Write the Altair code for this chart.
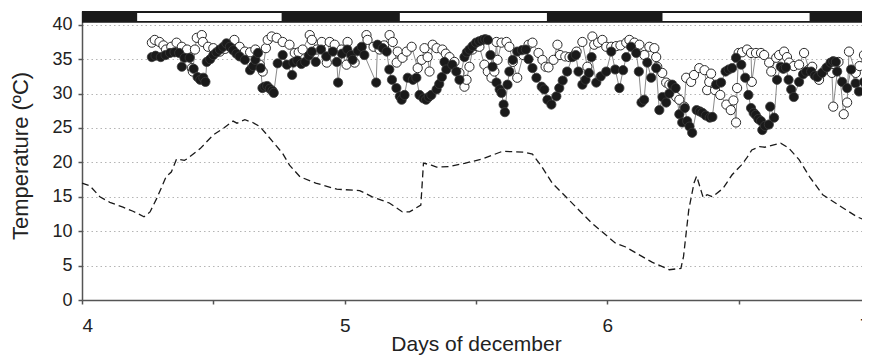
import altair as alt
import pandas as pd

# ---------------- data ----------------
# ambient temperature (dashed line)
amb_day = [4.0, 4.03, 4.068, 4.106, 4.156, 4.194, 4.236, 4.259, 4.285, 4.32, 4.34, 4.36, 4.39, 4.40,
           4.45, 4.50, 4.54, 4.575, 4.59, 4.62, 4.65, 4.677, 4.70, 4.764, 4.79, 4.83, 4.89, 4.97,
           5.057, 5.105, 5.17, 5.22, 5.247, 5.29, 5.30, 5.33, 5.35, 5.40, 5.46, 5.525, 5.60, 5.68,
           5.715, 5.75, 5.79, 5.855, 5.94, 6.03, 6.07, 6.17, 6.236, 6.28, 6.29, 6.31, 6.33, 6.34,
           6.36, 6.365, 6.38, 6.40, 6.44, 6.475, 6.51, 6.53, 6.55, 6.58, 6.60, 6.63, 6.66, 6.69,
           6.73, 6.77, 6.82, 6.88, 6.95, 7.0]
amb_temp = [17.0, 16.6, 15.0, 14.2, 13.5, 12.9, 12.1, 12.8, 14.8, 17.9, 18.6, 20.5, 20.3, 20.5,
            22.0, 24.0, 25.0, 26.0, 25.7, 26.2, 25.8, 25.2, 24.2, 21.3, 19.6, 17.9, 17.0, 16.1,
            15.9, 15.0, 14.1, 12.8, 12.8, 13.8, 19.9, 19.6, 19.3, 19.4, 19.9, 20.5, 21.6, 21.5,
            21.2, 19.4, 17.0, 14.5, 11.2, 8.3, 7.7, 5.5, 4.4, 4.6, 6.3, 13.1, 17.0, 18.0,
            15.5, 14.9, 15.3, 15.0, 16.2, 18.2, 19.6, 20.6, 21.8, 22.3, 22.2, 22.5, 22.8, 22.1,
            20.4, 17.9, 15.3, 13.8, 12.1, 11.3]

# filled circles series
filled_day = [4.266, 4.28, 4.30, 4.318, 4.335, 4.352, 4.37, 4.38, 4.39, 4.41, 4.425, 4.44, 4.45, 4.462,
              4.47, 4.475, 4.488, 4.50, 4.512, 4.525, 4.538, 4.55, 4.563, 4.575, 4.588, 4.60, 4.62,
              4.64, 4.652, 4.66, 4.67, 4.68, 4.687, 4.695, 4.705, 4.715, 4.725, 4.73, 4.745, 4.764,
              4.78, 4.80, 4.805, 4.82, 4.835, 4.85, 4.863, 4.875, 4.89, 4.91, 4.93, 4.955, 4.97,
              4.975, 4.99, 5.01, 5.025, 5.03, 5.05, 5.065, 5.075, 5.12, 5.125, 5.145, 5.16, 5.17,
              5.18, 5.197, 5.21, 5.217, 5.228, 5.24, 5.26, 5.273, 5.285, 5.30, 5.31, 5.32, 5.33,
              5.35, 5.36, 5.37, 5.38, 5.387, 5.41, 5.425, 5.437, 5.456, 5.465, 5.475, 5.487, 5.50,
              5.512, 5.525, 5.535, 5.545, 5.555, 5.563, 5.578, 5.59, 5.597, 5.605, 5.61, 5.62,
              5.627, 5.64, 5.657, 5.675, 5.69, 5.70, 5.715, 5.73, 5.75, 5.76, 5.772, 5.787, 5.806,
              5.817, 5.83, 5.847, 5.867, 5.88, 5.89, 5.905, 5.917, 5.93, 5.94, 5.958, 5.975, 5.996,
              6.015, 6.03, 6.046, 6.06, 6.072, 6.09, 6.11, 6.12, 6.13, 6.14, 6.152, 6.167, 6.186,
              6.198, 6.21, 6.224, 6.236, 6.247, 6.26, 6.274, 6.285, 6.295, 6.304, 6.313, 6.323,
              6.34, 6.352, 6.362, 6.375, 6.39, 6.40, 6.414, 6.433, 6.45, 6.462, 6.475, 6.49, 6.51,
              6.525, 6.537, 6.547, 6.557, 6.565, 6.575, 6.585, 6.59, 6.60, 6.615, 6.62, 6.635,
              6.646, 6.66, 6.67, 6.68, 6.69, 6.70, 6.71, 6.73, 6.745, 6.757, 6.776, 6.79, 6.80,
              6.817, 6.835, 6.85, 6.86, 6.87, 6.875, 6.894, 6.913, 6.928, 6.945, 6.958, 6.977, 6.99]
filled_temp = [35.3, 35.5, 35.3, 35.6, 35.9, 36.0, 35.9, 33.9, 35.2, 35.2, 33.6, 32.4, 32.0, 32.3,
               31.7, 34.6, 35.0, 35.6, 36.0, 36.4, 36.8, 37.3, 36.8, 36.3, 35.8, 35.4, 34.9,
               33.4, 34.0, 34.9, 35.9, 33.7, 30.8, 31.0, 31.1, 30.7, 30.4, 30.1, 34.4, 35.6,
               34.2, 32.7, 34.5, 34.8, 34.3, 34.6, 35.5, 36.1, 34.6, 36.4, 35.4, 36.1, 34.6,
               31.6, 35.8, 36.4, 35.6, 34.9, 36.2, 36.8, 35.6, 31.6, 37.1, 36.6, 36.1, 33.5,
               32.0, 30.8, 29.6, 29.1, 29.8, 32.3, 32.0, 32.3, 29.8, 29.3, 29.1, 29.5, 29.8,
               30.6, 31.4, 32.4, 34.6, 33.5, 34.2, 33.2, 32.0, 35.3, 36.0, 36.4, 36.9, 37.4,
               37.6, 37.8, 37.9, 37.8, 35.6, 33.9, 31.6, 30.6, 30.1, 28.4, 27.3, 31.3,
               33.2, 34.9, 36.1, 36.3, 36.4, 35.0, 33.7, 32.3, 31.0, 30.6, 29.1, 28.4, 29.6,
               30.8, 31.9, 33.2, 35.3, 35.6, 33.2, 31.3, 32.0, 33.0, 35.3, 31.6, 32.5, 33.2,
               36.1, 33.5, 30.8, 33.4, 35.3, 36.8, 35.9, 33.2, 28.7, 29.1, 34.5, 32.3, 33.7,
               27.6, 29.5, 28.7, 30.0, 31.3, 30.8, 27.0, 25.8, 27.9, 26.0, 25.2, 24.3,
               27.6, 27.4, 27.2, 26.8, 26.5, 26.6, 31.3, 31.6, 33.2, 33.5, 33.7, 35.2, 34.2,
               32.3, 29.8, 27.9, 27.2, 26.9, 26.3, 26.0, 24.7, 25.3, 25.5, 28.1, 26.5,
               32.0, 33.9, 33.6, 33.8, 32.0, 30.6, 29.5, 31.7, 32.8, 33.2, 33.2, 32.6, 32.4,
               33.0, 33.8, 34.5, 34.7, 34.6, 33.2, 31.7, 30.8, 33.5, 31.5, 30.3, 31.7, 33.2]

# open circles series
open_day = [4.266, 4.277, 4.295, 4.31, 4.32, 4.34, 4.36, 4.38, 4.40, 4.418, 4.422, 4.43, 4.437, 4.456,
            4.46, 4.48, 4.50, 4.525, 4.545, 4.563, 4.58, 4.60, 4.62, 4.64, 4.66, 4.677, 4.688, 4.70,
            4.707, 4.722, 4.741, 4.764, 4.79, 4.81, 4.825, 4.84, 4.867, 4.875, 4.894, 4.913, 4.932,
            4.943, 4.962, 4.988, 5.007, 5.011, 5.038, 5.06, 5.083, 5.087, 5.11, 5.133, 5.15, 5.171,
            5.183, 5.198, 5.202, 5.22, 5.236, 5.255, 5.278, 5.293, 5.304, 5.316, 5.323, 5.335,
            5.35, 5.372, 5.385, 5.399, 5.418, 5.437, 5.456, 5.464, 5.475, 5.487, 5.50, 5.513,
            5.532, 5.545, 5.559, 5.570, 5.578, 5.582, 5.597, 5.616, 5.627, 5.64, 5.657, 5.68,
            5.70, 5.715, 5.738, 5.753, 5.765, 5.776, 5.795, 5.81, 5.82, 5.84, 5.856, 5.875,
            5.883, 5.905, 5.924, 5.943, 5.95, 5.965, 5.981, 5.996, 6.015, 6.034, 6.05, 6.072,
            6.084, 6.103, 6.122, 6.141, 6.16, 6.179, 6.186, 6.19, 6.209, 6.224, 6.236, 6.25,
            6.262, 6.274, 6.293, 6.30, 6.319, 6.33, 6.35, 6.37, 6.38, 6.388, 6.395, 6.41, 6.43,
            6.453, 6.47, 6.48, 6.49, 6.494, 6.50, 6.513, 6.532, 6.547, 6.55, 6.566, 6.585, 6.597,
            6.616, 6.624, 6.643, 6.654, 6.673, 6.684, 6.692, 6.71, 6.73, 6.749, 6.768, 6.78,
            6.806, 6.83, 6.855, 6.86, 6.88, 6.90, 6.913, 6.92, 6.946, 6.96, 6.977, 6.99]
open_temp = [37.4, 37.8, 37.5, 37.0, 36.4, 36.8, 37.4, 36.8, 36.4, 33.7, 33.2, 36.4, 38.1, 38.5,
             37.5, 36.8, 36.6, 36.1, 36.5, 36.8, 37.8, 36.8, 36.1, 36.0, 36.4, 34.2, 33.2, 36.6,
             37.8, 38.3, 38.1, 37.5, 37.1, 35.9, 36.0, 36.4, 38.5, 37.8, 36.4, 37.5, 34.5,
             37.5, 37.1, 36.4, 34.2, 37.5, 34.5, 36.5, 38.5, 37.8, 36.8, 36.4, 37.0, 38.5,
             37.5, 34.5, 36.1, 35.2, 36.1, 36.8, 33.7, 34.9, 36.6, 35.3, 33.2, 37.1,
             36.6, 36.4, 35.8, 35.3, 34.6, 33.0, 31.0, 32.0, 33.9, 36.4, 36.9, 36.8,
             34.2, 33.2, 32.3, 33.2, 37.5, 34.9, 37.4, 37.5, 36.8, 34.6, 32.3, 35.6,
             37.1, 37.4, 35.9, 34.9, 33.9, 33.8, 34.9, 37.1, 35.6, 35.4, 35.3, 35.6,
             36.1, 37.5, 33.9, 38.3, 37.1, 37.4, 37.8, 36.8, 36.8, 36.9, 37.0, 37.4,
             37.8, 37.4, 37.1, 35.6, 36.8, 36.6, 35.3, 33.9, 33.0, 31.6, 31.3, 30.3,
             29.5, 29.1, 28.1, 32.3, 31.7, 32.7, 33.7, 33.4, 30.5, 31.7, 32.9, 30.5, 29.8,
             28.4, 27.6, 29.0, 25.8, 30.8, 35.9, 36.0, 36.4, 35.9, 31.7, 35.9, 35.9, 35.6,
             34.5, 33.2, 35.2, 35.6, 36.1, 35.3, 34.5, 34.0, 34.2, 35.9, 33.5, 33.9,
             32.0, 33.5, 33.0, 28.1, 34.6, 27.0, 28.7, 36.1, 33.0, 34.0, 35.6, 34.9]

# light/dark bar at the top (white = daylight)
day_start = [4.21, 5.21, 6.21]
day_end = [4.76, 5.77, 6.77]

x_ticks = [4, 4.5, 5, 5.5, 6, 6.5, 7]
y_ticks = [0, 5, 10, 15, 20, 25, 30, 35, 40]

# ---------------- chart ----------------
amb = pd.DataFrame({"day": amb_day, "temp": amb_temp})
filled = pd.DataFrame({"day": filled_day, "temp": filled_temp})
opn = pd.DataFrame({"day": open_day, "temp": open_temp})
bar_bg = pd.DataFrame({"day": [4.0], "e": [7.0]})
bar_day = pd.DataFrame({"day": day_start, "e": day_end})

FONT = "Liberation Sans"
XT = "Days of december"
YT = "Temperature (ºC)"
xs = alt.Scale(domain=[4, 7], nice=False, zero=False)
ys = alt.Scale(domain=[0, 42], nice=False)

x_axis = alt.Axis(values=x_ticks, title=XT,
                  labelExpr="datum.value % 1 === 0 ? format(datum.value, 'd') : ''",
                  grid=False, domainColor="#555", domainWidth=1.5, tickColor="#555",
                  tickWidth=1.5, tickSize=4, labelFontSize=19, labelColor="#222",
                  labelPadding=12, labelFont=FONT, titleFont=FONT, titleFontSize=21,
                  titleFontWeight="normal", titleColor="#222", titleBaseline="alphabetic",
                  titleY=50)
y_axis = alt.Axis(values=y_ticks, title=YT, grid=True,
                  gridColor="#b5b5b5", gridDash=[1.5, 3], gridWidth=1,
                  domainColor="#555", domainWidth=1.5, tickColor="#555", tickWidth=1.5,
                  tickSize=4, labelFontSize=18, labelColor="#222", labelPadding=6,
                  labelFont=FONT, titleFont=FONT, titleFontSize=22, titleFontWeight="normal",
                  titleColor="#222", titleBaseline="middle", titleX=-62)


def X(field="day"):
    return alt.X(f"{field}:Q", scale=xs, axis=x_axis, title=XT)


def Y(field="temp"):
    return alt.Y(f"{field}:Q", scale=ys, axis=y_axis, title=YT)


amb_line = alt.Chart(amb).mark_line(color="#1a1a1a", strokeDash=[7, 4], strokeWidth=1.3).encode(
    x=X(), y=Y())

bg = alt.Chart(bar_bg).mark_rect(color="#1a1a1a").encode(
    x=X(), x2="e:Q",
    y=alt.YDatum(40.3, scale=ys, axis=y_axis, title=YT), y2=alt.datum(42.0),
)
daybox = alt.Chart(bar_day).mark_rect(color="white").encode(
    x=X(), x2="e:Q",
    y=alt.YDatum(40.55, scale=ys, axis=y_axis, title=YT), y2=alt.datum(41.7),
)

open_line = alt.Chart(opn).mark_line(color="#8a8a8a", strokeWidth=1).encode(x=X(), y=Y())
filled_line = alt.Chart(filled).mark_line(color="#8a8a8a", strokeWidth=1).encode(x=X(), y=Y())
open_pts = alt.Chart(opn).mark_point(filled=True, fill="white", stroke="#2a2a2a",
                                     strokeWidth=1, size=85, opacity=1).encode(x=X(), y=Y())
filled_pts = alt.Chart(filled).mark_point(filled=True, fill="#1a1a1a", stroke="#3a3a3a",
                                          strokeWidth=0.8, size=85, opacity=1).encode(x=X(), y=Y())

chart = alt.layer(amb_line, bg, daybox, open_line, filled_line, open_pts, filled_pts).properties(
    width=788, height=289,
    autosize=alt.AutoSizeParams(type="none"),
    padding={"left": 74, "top": 3, "right": -8, "bottom": 55},
    background="white",
).configure_view(stroke=None)

chart.save("out.html", embed_options={"renderer": "svg", "actions": False})
